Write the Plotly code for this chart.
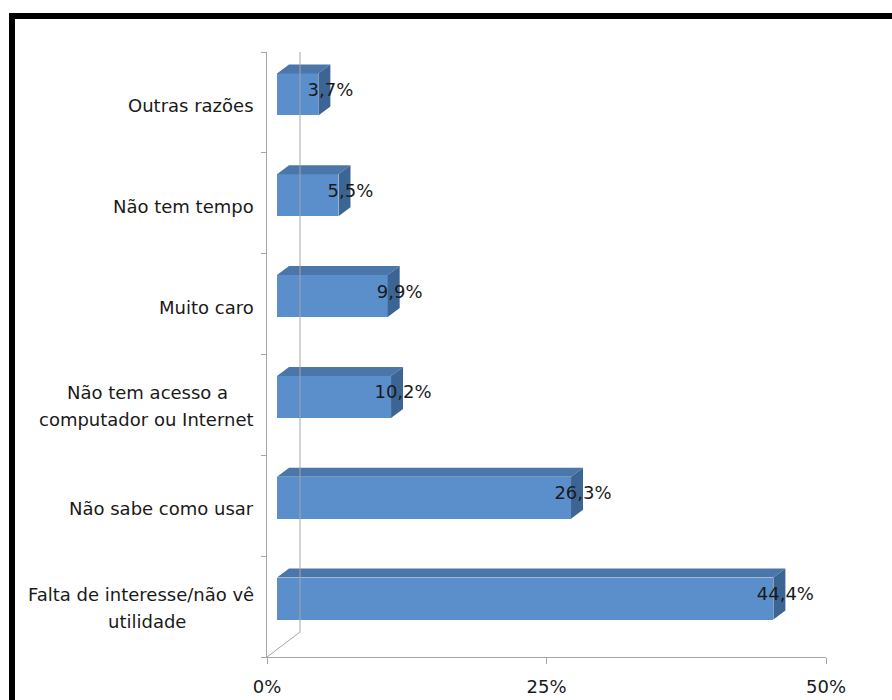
import plotly.graph_objects as go

categories = [
    "Falta de interesse/não vê<br>utilidade",
    "Não sabe como usar",
    "Não tem acesso a<br>computador ou Internet",
    "Muito caro",
    "Não tem tempo",
    "Outras razões",
]
values = [44.4, 26.3, 10.2, 9.9, 5.5, 3.7]
x_ticks = [0, 25, 50]
x_tick_labels = ["0%", "25%", "50%"]

# geometry (pseudo-3D)
X_MAX = 50
PX_PER_X = 559 / X_MAX          # plot width in px / range
PX_PER_Y = 605 / 6              # plot height in px / categories
front_off = 10 / PX_PER_X       # bar front plane offset from zero
dx = 12 / PX_PER_X              # bar depth (x)
dy = 9 / PX_PER_Y               # bar depth (y)
bar_h = 42 / PX_PER_Y
bar_lift = 8 / PX_PER_Y
wall_dx = 33 / PX_PER_X
wall_dy = 25 / PX_PER_Y

FRONT = "#5B8FCB"
TOP = "#4A76AA"
SIDE = "#3D6594"
GRID = "#A6A6A6"
FONT = "DejaVu Sans, sans-serif"
TXT = "#1A1A1A"
FS = 18

fig = go.Figure()

ys = [i + bar_lift for i in range(len(values))]

# front faces
fig.add_trace(go.Bar(
    x=values, y=ys, base=[front_off] * len(values), orientation="h",
    width=bar_h, marker=dict(color=FRONT, line=dict(width=0)),
    hoverinfo="skip", showlegend=False,
))

# top and side faces
for v, yc in zip(values, ys):
    top = yc + bar_h / 2
    bot = yc - bar_h / 2
    x0 = front_off
    x1 = front_off + v
    fig.add_trace(go.Scatter(
        x=[x0, x1, x1 + dx, x0 + dx, x0], y=[top, top, top + dy, top + dy, top],
        mode="lines", fill="toself", fillcolor=TOP, line=dict(width=0, color=TOP),
        hoverinfo="skip", showlegend=False,
    ))
    fig.add_trace(go.Scatter(
        x=[x1, x1 + dx, x1 + dx, x1, x1], y=[bot, bot + dy, top + dy, top, bot],
        mode="lines", fill="toself", fillcolor=SIDE, line=dict(width=0, color=SIDE),
        hoverinfo="skip", showlegend=False,
    ))

# data labels
labels = [f"{v:.1f}".replace(".", ",") + "%" for v in values]
fig.add_trace(go.Scatter(
    x=[front_off + v + dx for v in values], y=[y + 0.03 for y in ys],
    mode="text", text=labels, textposition="middle center",
    textfont=dict(family=FONT, size=FS, color=TXT),
    hoverinfo="skip", showlegend=False, cliponaxis=False,
))

# back wall / floor edges
shapes = [
    dict(type="line", xref="x", yref="y", x0=wall_dx, x1=wall_dx,
         y0=-0.5 + wall_dy, y1=5.5 + wall_dy, line=dict(color=GRID, width=1)),
    dict(type="line", xref="x", yref="y", x0=0, x1=wall_dx,
         y0=-0.5, y1=-0.5 + wall_dy, line=dict(color=GRID, width=1)),
    dict(type="line", xref="x", yref="y", x0=0, x1=wall_dx,
         y0=5.5, y1=5.5 + wall_dy, line=dict(color=GRID, width=1)),
]
# black page border (top and left)
shapes += [
    dict(type="rect", xref="paper", yref="paper", x0=(9 - 267) / 559, x1=(892 - 267) / 559,
         y0=(657 - 19) / 605, y1=(657 - 13) / 605, fillcolor="black", line=dict(width=0)),
    dict(type="rect", xref="paper", yref="paper", x0=(9 - 267) / 559, x1=(15 - 267) / 559,
         y0=(657 - 702) / 605, y1=(657 - 13) / 605, fillcolor="black", line=dict(width=0)),
]

# category labels (multi-line ones: longer line right-aligned, shorter centred)
annotations = []
for i, c in enumerate(categories):
    lines = c.split("<br>")
    if len(lines) == 1:
        annotations.append(dict(xref="paper", yref="y", x=0, y=i, xshift=-11, yshift=-3,
                                xanchor="right", yanchor="middle", text=c, showarrow=False,
                                font=dict(family=FONT, size=FS, color=TXT)))
    else:
        longest = max(range(len(lines)), key=lambda k: len(lines[k]))
        for k, ln in enumerate(lines):
            ysh = 12 - 27 * k
            if k == longest:
                annotations.append(dict(xref="paper", yref="y", x=0, y=i, xshift=-11, yshift=ysh,
                                        xanchor="right", yanchor="middle", text=ln, showarrow=False,
                                        font=dict(family=FONT, size=FS, color=TXT)))
            else:
                annotations.append(dict(xref="paper", yref="y", x=0, y=i, xshift=-120, yshift=ysh,
                                        xanchor="center", yanchor="middle", text=ln, showarrow=False,
                                        font=dict(family=FONT, size=FS, color=TXT)))

fig.update_layout(
    width=892, height=700,
    margin=dict(l=267, r=66, t=52, b=43, autoexpand=False),
    paper_bgcolor="white", plot_bgcolor="white",
    shapes=shapes, annotations=annotations,
    xaxis=dict(range=[0, X_MAX], tickvals=x_ticks, ticktext=x_tick_labels,
               showgrid=False, zeroline=False, showline=True, linecolor=GRID, linewidth=1,
               ticks="outside", ticklen=6, tickcolor=GRID, ticklabelstandoff=7,
               automargin=False,
               tickfont=dict(family=FONT, size=FS, color=TXT)),
    yaxis=dict(range=[-0.5, 5.5], tickvals=[i - 0.5 for i in range(len(values) + 1)],
               showticklabels=False, showgrid=False, zeroline=False,
               showline=True, linecolor=GRID, linewidth=1, automargin=False,
               ticks="outside", ticklen=5, tickcolor=GRID),
    bargap=0,
)

fig.write_html("out.html")
